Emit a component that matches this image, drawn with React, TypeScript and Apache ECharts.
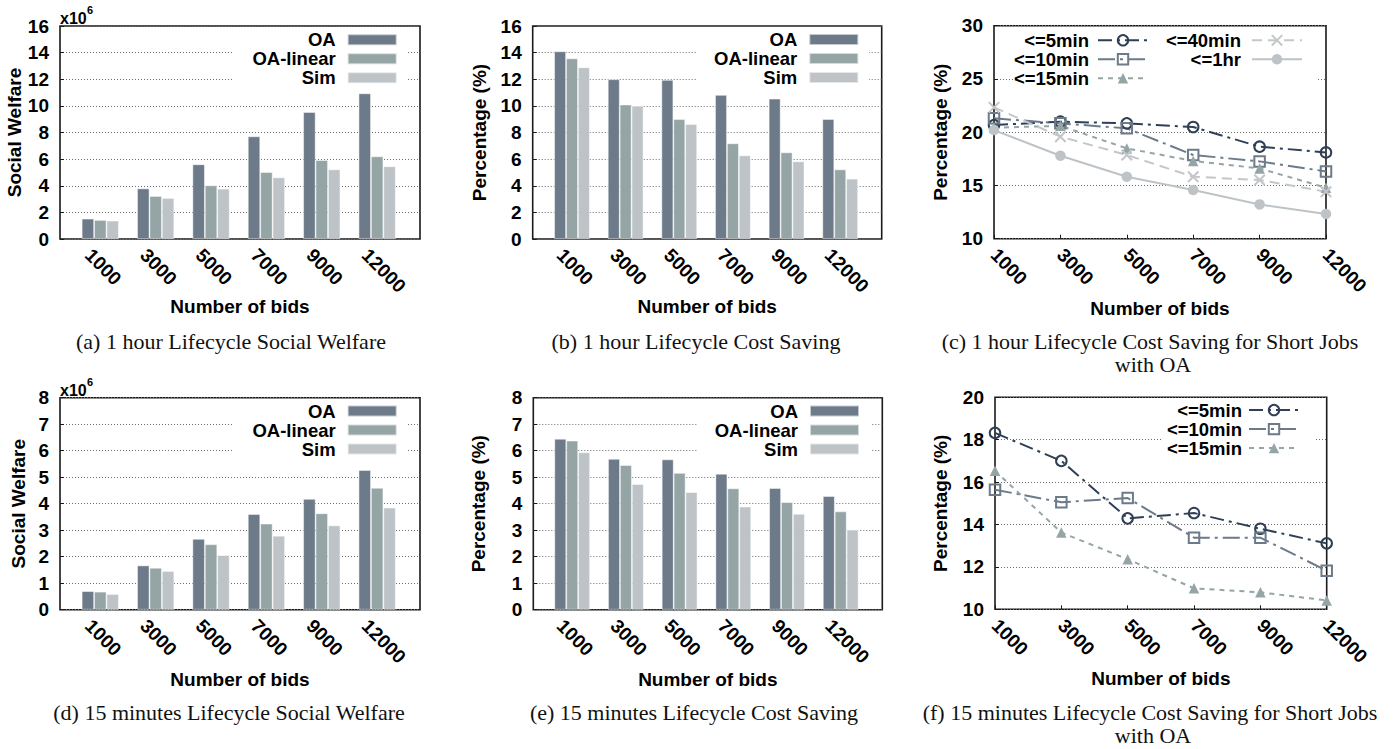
import React, { useEffect, useRef } from 'react';
import * as echarts from 'echarts';

// ---------- data ----------
const categories = ['1000', '3000', '5000', '7000', '9000', '12000'];
const barNames = ['OA', 'OA-linear', 'Sim'];

// (a) 1 hour lifecycle social welfare (x10^6)
const aOA = [1.53, 3.8, 5.61, 7.71, 9.54, 10.94];
const aLinear = [1.43, 3.23, 4.03, 5.03, 5.93, 6.21];
const aSim = [1.38, 3.08, 3.78, 4.63, 5.23, 5.46];
// (b) 1 hour lifecycle cost saving (%)
const bOA = [14.1, 12.0, 11.95, 10.82, 10.54, 9.01];
const bLinear = [13.57, 10.1, 9.0, 7.19, 6.51, 5.23];
const bSim = [12.9, 10.0, 8.64, 6.28, 5.83, 4.53];
// (d) 15 minutes lifecycle social welfare (x10^6)
const dOA = [0.7, 1.67, 2.67, 3.61, 4.18, 5.27];
const dLinear = [0.68, 1.58, 2.47, 3.25, 3.64, 4.6];
const dSim = [0.59, 1.46, 2.06, 2.79, 3.18, 3.85];
// (e) 15 minutes lifecycle cost saving (%)
const eOA = [6.45, 5.69, 5.67, 5.13, 4.59, 4.29];
const eLinear = [6.38, 5.46, 5.16, 4.58, 4.06, 3.71];
const eSim = [5.94, 4.74, 4.44, 3.89, 3.62, 3.02];
// (c) 1 hour lifecycle cost saving for short jobs (%)
const c5min = [20.67, 20.99, 20.83, 20.49, 18.64, 18.1];
const c10min = [21.3, 20.83, 20.36, 17.86, 17.26, 16.32];
const c15min = [20.42, 20.6, 18.48, 17.3, 16.6, 14.79];
const c40min = [22.33, 19.58, 17.86, 15.82, 15.51, 14.41];
const c1hr = [20.2, 17.79, 15.82, 14.57, 13.22, 12.32];
// (f) 15 minutes lifecycle cost saving for short jobs (%)
const f5min = [18.32, 17.0, 14.29, 14.54, 13.8, 13.11];
const f10min = [15.64, 15.05, 15.25, 13.38, 13.38, 11.82];
const f15min = [16.53, 13.62, 12.36, 10.99, 10.8, 10.42];

// ---------- styles ----------
const W = 1399;
const H = 749;
const FONT = "'Liberation Sans', Arial, Helvetica, sans-serif";
const SERIF = "'Liberation Serif', 'Times New Roman', Times, serif";
const FRAME = '#1a1a1a';
const barColors = ['#6c7a89', '#95a5a6', '#bdc3c7'];
const tickStyle = { fontFamily: FONT, fontWeight: 'bold', fontSize: 19, color: '#000' };
const nameStyle = { fontFamily: FONT, fontWeight: 'bold', fontSize: 19, color: '#000' };

const lineDefs: Record<string, any> = {
  '<=5min': { color: '#2f3f55', dash: [14, 5, 3, 5], symbol: 'circle', hollow: true },
  '<=10min': { color: '#6c7a89', dash: [17, 5, 3, 5], symbol: 'rect', hollow: true },
  '<=15min': { color: '#95a5a6', dash: [5, 5], symbol: 'triangle', hollow: false },
  '<=40min': { color: '#c4c7ca', dash: [10, 6], symbol: 'path://M0,0L10,10M0,10L10,0', hollow: true },
  '<=1hr': { color: '#bdc3c7', dash: 'solid', symbol: 'circle', hollow: false },
};

const barPanels = [
  { L: 60, R: 420, T: 26, B: 239, c0: 100.3, sp: 55.37, bw: 12.4, max: 16, step: 2, yName: 'Social Welfare', yGap: 32, xGap: 58,
    data: [aOA, aLinear, aSim], legRight: 397.7, legTop: 30.2, box: [233, 27.5, 175, 61], mult: [26, 15.5] },
  { L: 532.7, R: 881.7, T: 26, B: 239, c0: 572, sp: 53.64, bw: 11.9, max: 16, step: 2, yName: 'Percentage (%)', yGap: 44, xGap: 58,
    data: [bOA, bLinear, bSim], legRight: 859.3, legTop: 30, box: [696, 27.5, 173, 61], mult: null },
  { L: 60, R: 420, T: 397.7, B: 609.7, c0: 100.3, sp: 55.37, bw: 12.4, max: 8, step: 1, yName: 'Social Welfare', yGap: 32, xGap: 60,
    data: [dOA, dLinear, dSim], legRight: 397.7, legTop: 401.5, box: [233, 399.2, 175, 61], mult: [398, 387.5] },
  { L: 533.3, R: 882.3, T: 397.7, B: 609.7, c0: 572.2, sp: 53.7, bw: 11.9, max: 8, step: 1, yName: 'Percentage (%)', yGap: 45, xGap: 60,
    data: [eOA, eLinear, eSim], legRight: 860, legTop: 401.5, box: [697, 399.2, 174, 61], mult: null },
];

const linePanels = [
  { L: 994, R: 1326, T: 25.7, B: 238.7, min: 10, max: 30, step: 5, yGap: 44, xGap: 58,
    lines: [['<=5min', c5min], ['<=10min', c10min], ['<=15min', c15min], ['<=40min', c40min], ['<=1hr', c1hr]],
    legends: [
      { names: ['<=5min', '<=10min', '<=15min'], right: 1149, top: 30.8, lh: 18.4, pad: 4 },
      { names: ['<=40min', '<=1hr'], right: 1303, top: 30.8, lh: 18.4, pad: 6 },
    ],
    box: [1013, 27.2, 305, 61] },
  { L: 995, R: 1326.7, T: 397.3, B: 609.3, min: 10, max: 20, step: 2, yGap: 45, xGap: 60,
    lines: [['<=5min', f5min], ['<=10min', f10min], ['<=15min', f15min]],
    legends: [{ names: ['<=5min', '<=10min', '<=15min'], right: 1300, top: 400.6, lh: 18.8, pad: 2 }],
    box: [1163, 398.8, 152, 62] },
];

const captions = [
  { text: '(a) 1 hour Lifecycle Social Welfare', x: 231, y: 341 },
  { text: '(b) 1 hour Lifecycle Cost Saving', x: 696, y: 341 },
  { text: '(c) 1 hour Lifecycle Cost Saving for Short Jobs', x: 1150, y: 341 },
  { text: 'with OA', x: 1153, y: 364 },
  { text: '(d) 15 minutes Lifecycle Social Welfare', x: 229, y: 712 },
  { text: '(e) 15 minutes Lifecycle Cost Saving', x: 694, y: 712 },
  { text: '(f) 15 minutes Lifecycle Cost Saving for Short Jobs', x: 1150, y: 712 },
  { text: 'with OA', x: 1153, y: 735 },
];

function frameGrid(L: number, R: number, T: number, B: number) {
  return { left: L, top: T, width: R - L, height: B - T, show: true, borderColor: FRAME, borderWidth: 1.6, backgroundColor: 'rgba(0,0,0,0)' };
}

function frameYAxis(gridIndex: number, min: number, max: number, step: number, name: string, gap: number) {
  return {
    gridIndex, type: 'value', min, max, interval: step,
    axisLine: { show: false },
    axisTick: { show: true, inside: true, length: 4, lineStyle: { color: FRAME, width: 1 } },
    axisLabel: { ...tickStyle, margin: 11 },
    splitLine: { show: true, lineStyle: { color: '#6a6a6a', width: 1, type: [1, 2] } },
    name, nameLocation: 'middle', nameGap: gap, nameTextStyle: nameStyle,
  };
}

function buildOption() {
  const grid: any[] = [];
  const xAxis: any[] = [];
  const yAxis: any[] = [];
  const series: any[] = [];
  const legend: any[] = [];
  const graphic: any[] = [];

  barPanels.forEach((p) => {
    const gF = grid.length;
    grid.push(frameGrid(p.L, p.R, p.T, p.B));
    xAxis.push({
      gridIndex: gF, type: 'value', min: 0, max: 1,
      axisLine: { show: false }, axisTick: { show: false }, axisLabel: { show: false }, splitLine: { show: false },
      name: 'Number of bids', nameLocation: 'middle', nameGap: p.xGap, nameTextStyle: nameStyle,
    });
    yAxis.push(frameYAxis(gF, 0, p.max, p.step, p.yName, p.yGap));

    const innerLeft = p.c0 - p.sp / 2;
    const gD = grid.length;
    grid.push({ left: innerLeft, top: p.T, width: p.sp * 6, height: p.B - p.T });
    const xD = xAxis.length;
    xAxis.push({ gridIndex: gD, type: 'category', data: categories, show: false });
    const yD = yAxis.length;
    yAxis.push({ gridIndex: gD, type: 'value', min: 0, max: p.max, show: false });

    const gL = grid.length;
    grid.push({ left: innerLeft - 12, top: p.T, width: p.sp * 6, height: p.B - p.T });
    xAxis.push({
      gridIndex: gL, type: 'category', data: categories,
      axisLine: { show: false }, axisTick: { show: false }, splitLine: { show: false },
      axisLabel: { ...tickStyle, rotate: -45, margin: 13, interval: 0 },
    });
    yAxis.push({ gridIndex: gL, type: 'value', min: 0, max: 1, show: false });

    barNames.forEach((n, i) => {
      series.push({
        type: 'bar', name: n, xAxisIndex: xD, yAxisIndex: yD, data: p.data[i],
        barWidth: p.bw, barGap: '0%',
        itemStyle: { color: barColors[i], borderColor: 'rgba(255,255,255,0.6)', borderWidth: 0.8 },
      });
    });

    legend.push({
      data: barNames, orient: 'vertical', align: 'right', right: W - p.legRight, top: p.legTop,
      itemWidth: 49, itemHeight: 11, itemGap: 0, padding: 0, selectedMode: false, icon: 'rect',
      textStyle: { fontFamily: FONT, fontWeight: 'bold', fontSize: 18.5, color: '#000', lineHeight: 19, padding: [0, 7, 0, 0] },
    });

    graphic.push({ type: 'rect', z: 1, shape: { x: p.box[0], y: p.box[1], width: p.box[2], height: p.box[3] }, style: { fill: '#fff' } });
    if (p.mult) {
      graphic.push({ type: 'text', z: 5, x: p.L, y: p.mult[0], style: { text: 'x10', fontFamily: FONT, fontWeight: 'bold', fontSize: 16, fill: '#000', align: 'left', verticalAlign: 'bottom' } });
      graphic.push({ type: 'text', z: 5, x: p.L + 27, y: p.mult[1], style: { text: '6', fontFamily: FONT, fontWeight: 'bold', fontSize: 11, fill: '#000', align: 'left', verticalAlign: 'bottom' } });
    }
  });

  linePanels.forEach((p) => {
    const g = grid.length;
    grid.push(frameGrid(p.L, p.R, p.T, p.B));
    const xi = xAxis.length;
    xAxis.push({
      gridIndex: g, type: 'category', data: categories, boundaryGap: false,
      axisLine: { show: false },
      axisTick: { show: true, inside: true, length: 4, interval: 0, lineStyle: { color: FRAME, width: 1 } },
      axisLabel: { ...tickStyle, rotate: -45, margin: 13, interval: 0 },
      splitLine: { show: false },
      name: 'Number of bids', nameLocation: 'middle', nameGap: p.xGap, nameTextStyle: nameStyle,
    });
    const yi = yAxis.length;
    yAxis.push(frameYAxis(g, p.min, p.max, p.step, 'Percentage (%)', p.yGap));

    p.lines.forEach(([name, vals]: any) => {
      const d = lineDefs[name];
      series.push({
        type: 'line', name, xAxisIndex: xi, yAxisIndex: yi, data: vals,
        symbol: d.symbol, symbolSize: 10.5, showAllSymbol: true,
        lineStyle: { color: d.color, width: 2, type: d.dash },
        itemStyle: { color: d.hollow ? 'rgba(0,0,0,0)' : d.color, borderColor: d.color, borderWidth: d.hollow ? 2 : 0 },
      });
    });

    p.legends.forEach((lg: any) => {
      legend.push({
        data: lg.names, orient: 'vertical', align: 'right', right: W - lg.right, top: lg.top,
        itemWidth: 50, itemHeight: 13, itemGap: 0, padding: 0, selectedMode: false,
        textStyle: { fontFamily: FONT, fontWeight: 'bold', fontSize: 18.5, color: '#000', lineHeight: lg.lh, padding: [0, lg.pad, 0, 0] },
      });
    });

    graphic.push({ type: 'rect', z: 1, shape: { x: p.box[0], y: p.box[1], width: p.box[2], height: p.box[3] }, style: { fill: '#fff' } });
  });

  captions.forEach((c) => {
    graphic.push({ type: 'text', z: 5, x: c.x, y: c.y, style: { text: c.text, fontFamily: SERIF, fontSize: 22, fill: '#111', align: 'center', verticalAlign: 'middle' } });
  });

  return { animation: false, backgroundColor: '#fff', grid, xAxis, yAxis, series, legend, graphic };
}

export default function App() {
  const ref = useRef<HTMLDivElement>(null);
  useEffect(() => {
    if (!ref.current) return;
    const chart = echarts.init(ref.current, undefined, { renderer: 'svg', width: W, height: H });
    chart.setOption(buildOption() as any);
    return () => chart.dispose();
  }, []);
  return <div ref={ref} style={{ position: 'absolute', left: 0, top: 0, width: W, height: H, background: '#fff' }} />;
}
